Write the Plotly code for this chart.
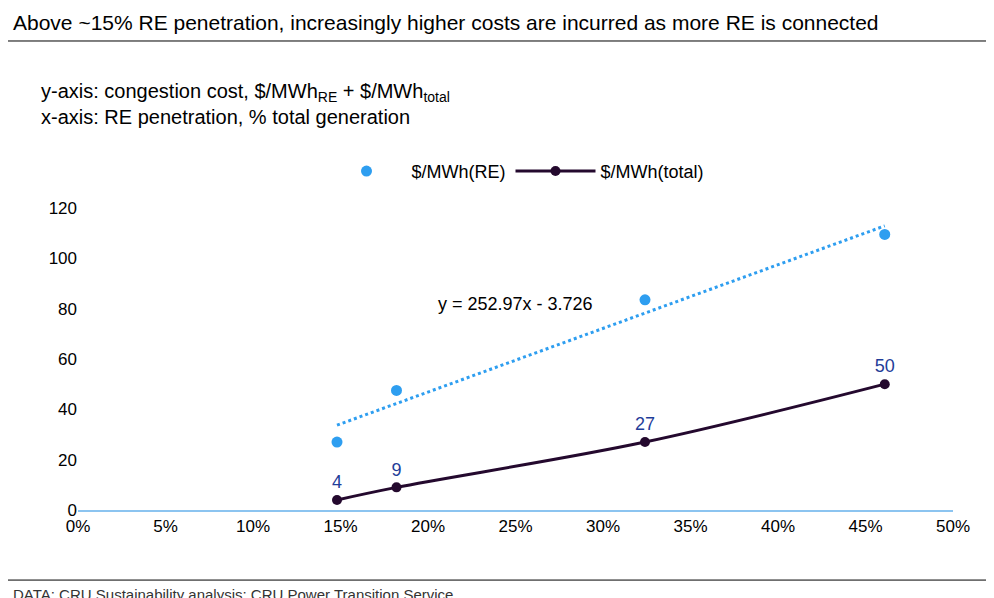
import plotly.graph_objects as go

re_pen = [0.148, 0.182, 0.324, 0.461]
cost_re = [27, 47.5, 83.5, 109.5]
cost_total = [4, 9, 27, 50]
total_labels = ["4", "9", "27", "50"]
slope, intercept = 252.97, -3.726
trend_x = [re_pen[0], re_pen[-1]]
trend_y = [slope * v + intercept for v in trend_x]

F = "Liberation Sans, Arial"
fig = go.Figure()
fig.add_trace(go.Scatter(x=trend_x, y=trend_y, mode="lines", showlegend=False,
                         line=dict(color="#2e9ef0", width=3, dash="dot")))
fig.add_trace(go.Scatter(x=re_pen, y=cost_re, mode="markers", name="$/MWh(RE)",
                         marker=dict(color="#2e9ef0", size=11)))
fig.add_trace(go.Scatter(x=re_pen, y=cost_total, mode="lines+markers+text", name="$/MWh(total)",
                         line=dict(color="#24092e", width=3, shape="spline"),
                         marker=dict(color="#24092e", size=10),
                         text=total_labels, textposition="top center",
                         textfont=dict(color="#1f3d99", size=18, family=F)))
fig.update_layout(
    width=994, height=598, plot_bgcolor="white", paper_bgcolor="white",
    margin=dict(l=70, r=49, t=200, b=96),
    font=dict(family=F, size=17, color="black"),
    legend=dict(orientation="h", x=0.5, xanchor="center", y=1.06, yanchor="bottom",
                font=dict(size=18), itemwidth=80, tracegroupgap=0),
    xaxis=dict(range=[0, 0.5], tickformat=".0%", dtick=0.05, showgrid=False, zeroline=False,
               showline=True, linecolor="#8cc4f0", linewidth=2, ticks="", tickfont=dict(size=17)),
    yaxis=dict(range=[0, 120], dtick=20, showgrid=False, zeroline=False, tickfont=dict(size=17)),
    annotations=[
        dict(text="Above ~15% RE penetration, increasingly higher costs are incurred as more RE is connected",
             xref="paper", yref="paper", x=-0.077, y=1.66, xanchor="left", yanchor="top",
             showarrow=False, font=dict(size=21)),
        dict(text="y-axis: congestion cost, $/MWh<sub>RE</sub> + $/MWh<sub>total</sub><br>x-axis: RE penetration, % total generation",
             xref="paper", yref="paper", x=-0.045, y=1.43, xanchor="left", yanchor="top",
             showarrow=False, align="left", font=dict(size=20)),
        dict(text="y = 252.97x - 3.726", x=0.25, y=82, xanchor="center", showarrow=False,
             font=dict(size=18)),
        dict(text="DATA: CRU Sustainability analysis; CRU Power Transition Service",
             xref="paper", yref="paper", x=-0.077, y=-0.245, xanchor="left", yanchor="top",
             showarrow=False, font=dict(size=15, color="#333")),
    ],
    shapes=[
        dict(type="line", xref="paper", yref="paper", x0=-0.08, x1=1.056, y0=1.553, y1=1.553,
             line=dict(color="black", width=1)),
        dict(type="line", xref="paper", yref="paper", x0=-0.08, x1=1.056, y0=-0.232, y1=-0.232,
             line=dict(color="black", width=1)),
    ],
)
fig.write_html("out.html")
